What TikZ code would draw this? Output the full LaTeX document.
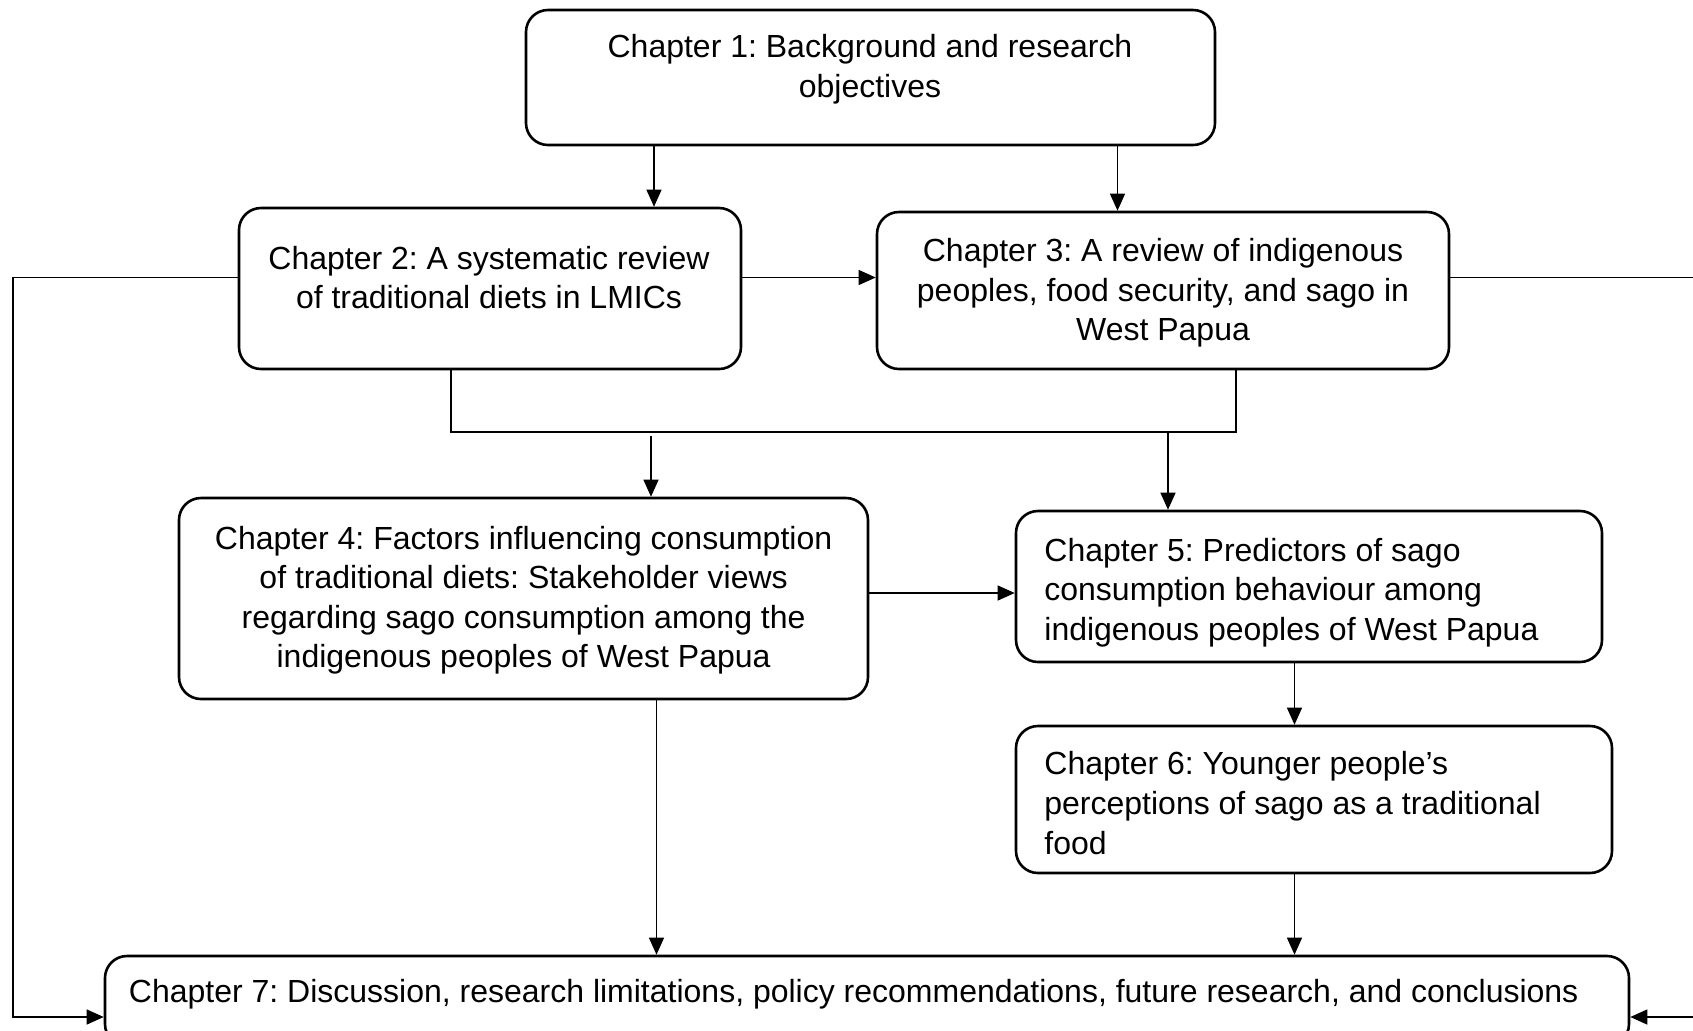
\documentclass[tikz,border=0pt]{standalone}
\usepackage{fontspec}
\setmainfont{Liberation Sans}
\usetikzlibrary{arrows.meta}
\frenchspacing
\begin{document}
\begin{tikzpicture}[x=0.5pt,y=-0.5pt,
  chapbox/.style={draw=black,line width=1.3pt,rounded corners=11pt,fill=white,inner sep=0pt},
  chaptext/.style={inner sep=0pt,font=\fontsize{16}{19.8}\selectfont},
  link/.style={draw=black,line width=0.6pt},
  arr/.style={link,-{Triangle[length=8.5pt,width=7.5pt]}}]
\useasboundingbox (0,0) rectangle (1693,1030);

% chapter boxes
\node[chapbox,minimum width=344.5pt,minimum height=67.5pt] (c1) at (870.5,77.5) {};
\node[chapbox,minimum width=251pt,minimum height=80.5pt] (c2) at (490,288.5) {};
\node[chapbox,minimum width=286pt,minimum height=78.5pt] (c3) at (1163,290.5) {};
\node[chapbox,minimum width=344.5pt,minimum height=100.5pt] (c4) at (523.5,598.5) {};
\node[chapbox,minimum width=293pt,minimum height=75.5pt] (c5) at (1309,586.5) {};
\node[chapbox,minimum width=298pt,minimum height=73.5pt] (c6) at (1314,799.5) {};
\node[chapbox,minimum width=762pt,minimum height=45pt] (c7) at (867,1001) {};

% chapter titles
\node[chaptext,align=center] (t1) at (870,69.5) {Chapter 1: Background and research\\objectives};
\node[chaptext,align=center] (t2) at (489,277.5) {Chapter 2: A systematic review\\of traditional diets in LMICs};
\node[chaptext,align=center] (t3) at (1163,293) {Chapter 3: A review of indigenous\\peoples, food security, and sago in\\West Papua};
\node[chaptext,align=center] (t4) at (523.6,600.2) {Chapter 4: Factors influencing consumption\\of traditional diets: Stakeholder views\\regarding sago consumption among the\\indigenous peoples of West Papua};
\node[chaptext,align=left,anchor=west] (t5) at (1044,592.5) {Chapter 5: Predictors of sago\\consumption behaviour among\\indigenous peoples of West Papua};
\node[chaptext,align=left,anchor=west] (t6) at (1044,803) {Chapter 6: Younger people’s\\perceptions of sago as a traditional\\food};
\node[chaptext,align=left,anchor=west] (t7) at (128.5,994) {Chapter 7: Discussion, research limitations, policy recommendations, future research, and conclusions};

% guide coordinates for the connectors
\coordinate (x12) at (654,0);
\coordinate (x13) at (1117.5,0);
\coordinate (x2d) at (451,0);
\coordinate (x3d) at (1236,0);
\coordinate (x4) at (651,0);
\coordinate (x5) at (1168,0);
\coordinate (x47) at (656.5,0);
\coordinate (x56) at (1294.5,0);
\coordinate (yrow) at (0,277.5);
\coordinate (ymerge) at (0,432);
\coordinate (ygap) at (0,436);
\coordinate (y45) at (0,593);
\coordinate (yin) at (0,1017);
\coordinate (lx) at (13,0);
\coordinate (rx) at (1720,0);

% chapter 1 feeds chapters 2 and 3
\draw[arr] (c1.south -| x12) -- (c2.north -| x12);
\draw[arr] (c1.south -| x13) -- (c3.north -| x13);
% chapter 2 to chapter 3
\draw[arr] (c2.east |- yrow) -- (c3.west |- yrow);
% chapters 2 and 3 merge, then feed chapters 4 and 5
\draw[link] (c2.south -| x2d) -- (x2d |- ymerge) -- (x3d |- ymerge) -- (c3.south -| x3d);
\draw[arr] (x4 |- ygap) -- (c4.north -| x4);
\draw[arr] (x5 |- ymerge) -- (c5.north -| x5);
% chapter 4 to chapter 5
\draw[arr] (c4.east |- y45) -- (c5.west |- y45);
% chapter 5 to 6, and both branches into chapter 7
\draw[arr] (c5.south -| x56) -- (c6.north -| x56);
\draw[arr] (c6.south -| x56) -- (c7.north -| x56);
\draw[arr] (c4.south -| x47) -- (c7.north -| x47);
% outer loops from chapters 2 and 3 into chapter 7
\draw[arr] (c2.west |- yrow) -- (lx |- yrow) -- (lx |- yin) -- (c7.west |- yin);
\draw[arr] (c3.east |- yrow) -- (rx |- yrow) -- (rx |- yin) -- (c7.east |- yin);
\end{tikzpicture}
\end{document}
